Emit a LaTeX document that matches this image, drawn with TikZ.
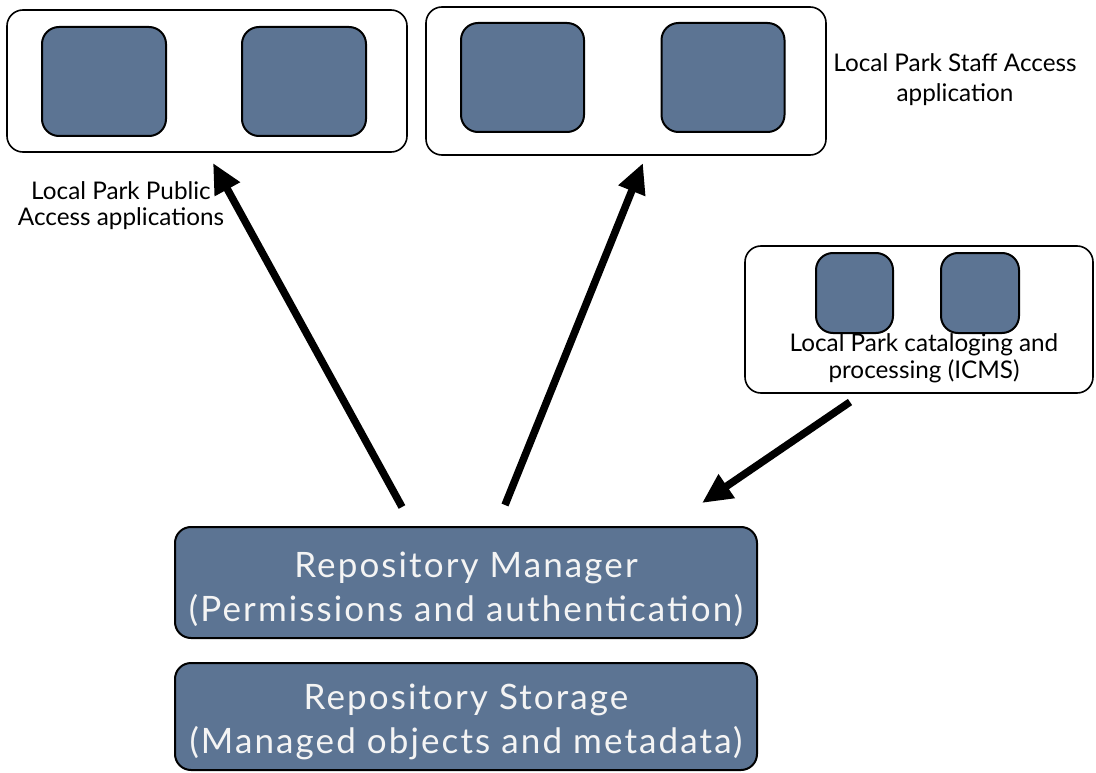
\documentclass[tikz,border=0pt]{standalone}
\usepackage{fontspec}
\setmainfont{Lato}
\newfontfamily\layerfont[LetterSpace=6]{Lato}
\usetikzlibrary{arrows.meta}
\definecolor{slate}{HTML}{5C7493}
\definecolor{boxtext}{HTML}{F4F4F4}
\tikzset{
  group/.style={draw=black, line width=1.6pt, rounded corners=16pt, fill=white},
  app/.style={draw=black, line width=2pt, rounded corners=17pt, fill=slate},
  layer/.style={draw=black, line width=2pt, rounded corners=16pt, fill=slate},
  layertext/.style={text=boxtext, align=center, inner sep=0pt,
    font=\layerfont\fontsize{35}{44}\selectfont},
  caption/.style={align=center, text=black, font=\fontsize{24.3}{26}\selectfont, inner sep=0pt},
  flow/.style={line width=7.5pt, -{Triangle[length=30pt,width=27pt]}}
}
\begin{document}
\begin{tikzpicture}[x=1pt, y=-1pt]
  \useasboundingbox (0,0) rectangle (1096,773);
  \fill[white] (0,0) rectangle (1096,773);

  % public access applications
  \node[group, minimum width=400pt, minimum height=142pt] (pub) at (207,81) {};
  \node[app, minimum width=124pt, minimum height=109pt] (pubA) at (104,81.5) {};
  \node[app, minimum width=124pt, minimum height=109pt] (pubB) at (304,81.5) {};
  \node[caption] (pubL) at (121,206) {Local Park Public\\Access applications};

  % staff access application
  \node[group, minimum width=400pt, minimum height=148pt] (staff) at (626,81) {};
  \node[app, minimum width=123pt, minimum height=109pt] (staffA) at (522.5,77.5) {};
  \node[app, minimum width=123pt, minimum height=109pt] (staffB) at (723,77.5) {};
  \node[caption, font=\fontsize{24.3}{30}\selectfont] (staffL) at (955,80) {Local Park Staff Access\\application};

  % cataloging and processing
  \node[group, minimum width=348pt, minimum height=147pt] (cat) at (919,319.5) {};
  \node[app, minimum width=77pt, minimum height=80pt] (catA) at (854.5,293) {};
  \node[app, minimum width=78pt, minimum height=80pt] (catB) at (980,293) {};
  \node[caption, font=\fontsize{24.3}{27}\selectfont] (catL) at (924,358) {Local Park cataloging and\\processing (ICMS)};

  % repository layers
  \node[layer, minimum width=582pt, minimum height=111pt] (mgr) at (466,582.5) {};
  \node[layertext] (mgrL) at (466,589) {Repository Manager\\(Permissions and authentication)};
  \node[layer, minimum width=582pt, minimum height=107pt] (store) at (466,716.5) {};
  \node[layertext] (storeL) at (466,722) {Repository Storage\\(Managed objects and metadata)};

  % arrow end points
  \coordinate (m1) at (402,507);
  \coordinate (p1) at (213,163);
  \coordinate (m2) at (505,505);
  \coordinate (s2) at (643,163);
  \coordinate (c3) at (850,402);
  \coordinate (m3) at (702,503);

  \draw[flow] (m1) -- (p1);
  \draw[flow] (m2) -- (s2);
  \draw[flow] (c3) -- (m3);
\end{tikzpicture}
\end{document}
